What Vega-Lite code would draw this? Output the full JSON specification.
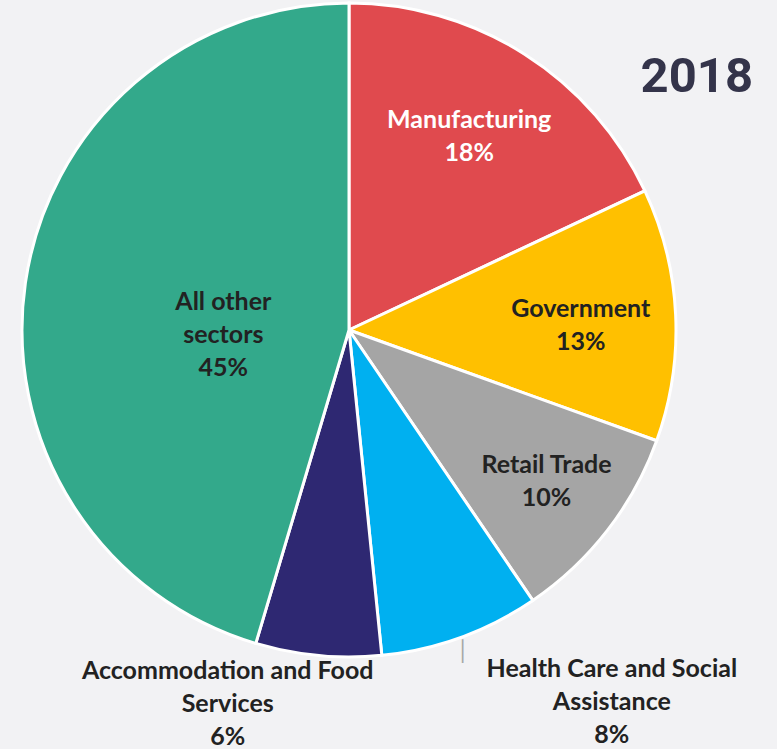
{
  "$schema": "https://vega.github.io/schema/vega-lite/v6.json",
  "width": 654,
  "height": 654,
  "autosize": {"type": "none"},
  "padding": {"left": 22, "top": 3, "right": 101, "bottom": 92},
  "background": "#f2f2f4",
  "config": {"view": {"stroke": null}},
  "title": {"text": "2018", "anchor": "end", "frame": "group", "font": "Roboto", "fontSize": 49, "fontWeight": "bold", "color": "#34344a", "baseline": "alphabetic", "offset": 0, "dx": 77, "dy": 172},
  "data": {"values": [
    {"sector": "Manufacturing", "value": 18.0, "order": 1, "label": "Manufacturing\n18%"},
    {"sector": "Government", "value": 12.5, "order": 2, "label": "Government\n13%"},
    {"sector": "Retail Trade", "value": 10.0, "order": 3, "label": "Retail Trade\n10%"},
    {"sector": "Health Care and Social Assistance", "value": 7.9, "order": 4, "label": "Health Care and Social\nAssistance\n8%"},
    {"sector": "Accommodation and Food Services", "value": 6.2, "order": 5, "label": "Accommodation and Food\nServices\n6%"},
    {"sector": "All other sectors", "value": 45.4, "order": 6, "label": "All other\nsectors\n45%"}
  ]},
  "encoding": {
    "theta": {"field": "value", "type": "quantitative", "stack": true},
    "order": {"field": "order", "type": "quantitative"}
  },
  "layer": [
    {"mark": {"type": "arc", "outerRadius": 327, "stroke": "white", "strokeWidth": 3},
     "encoding": {"color": {"field": "sector", "type": "nominal", "legend": null,
       "scale": {"domain": ["Manufacturing", "Government", "Retail Trade", "Health Care and Social Assistance", "Accommodation and Food Services", "All other sectors"],
                 "range": ["#e04a4e", "#ffc000", "#a5a5a5", "#00b0f0", "#2e2872", "#33a98b"]}}}},
    {"mark": {"type": "text", "radius": 332, "font": "DejaVu Sans", "fontSize": 20, "color": "#a6a6a6", "align": "center", "baseline": "top"},
     "encoding": {"text": {"condition": {"test": "datum.sector === 'Health Care and Social Assistance'", "value": "│"}, "value": ""}}},
    {"mark": {"type": "text", "radius": 228, "dx": -2, "dy": -17, "font": "Lato", "fontWeight": "bold", "fontSize": 25, "lineHeight": 33, "lineBreak": "\n", "color": "#ffffff", "align": "center", "baseline": "middle"},
     "encoding": {"text": {"condition": {"test": "datum.sector === 'Manufacturing'", "field": "label"}, "value": ""}}},
    {"mark": {"type": "text", "radius": 232, "dy": -10, "font": "Lato", "fontWeight": "bold", "fontSize": 25, "lineHeight": 33, "lineBreak": "\n", "color": "#222222", "align": "center", "baseline": "middle"},
     "encoding": {"text": {"condition": {"test": "datum.sector === 'Government'", "field": "label"}, "value": ""}}},
    {"mark": {"type": "text", "radius": 250, "dy": -18, "font": "Lato", "fontWeight": "bold", "fontSize": 25, "lineHeight": 33, "lineBreak": "\n", "color": "#222222", "align": "center", "baseline": "middle"},
     "encoding": {"text": {"condition": {"test": "datum.sector === 'Retail Trade'", "field": "label"}, "value": ""}}},
    {"mark": {"type": "text", "radius": 380, "dx": 133, "dy": -18, "font": "Lato", "fontWeight": "bold", "fontSize": 25, "lineHeight": 33, "lineBreak": "\n", "color": "#222222", "align": "center", "baseline": "middle"},
     "encoding": {"text": {"condition": {"test": "datum.sector === 'Health Care and Social Assistance'", "field": "label"}, "value": ""}}},
    {"mark": {"type": "text", "radius": 375, "dx": -86, "dy": -32, "font": "Lato", "fontWeight": "bold", "fontSize": 25, "lineHeight": 33, "lineBreak": "\n", "color": "#222222", "align": "center", "baseline": "middle"},
     "encoding": {"text": {"condition": {"test": "datum.sector === 'Accommodation and Food Services'", "field": "label"}, "value": ""}}},
    {"mark": {"type": "text", "radius": 127, "dy": -10, "font": "Lato", "fontWeight": "bold", "fontSize": 25, "lineHeight": 33, "lineBreak": "\n", "color": "#222222", "align": "center", "baseline": "middle"},
     "encoding": {"text": {"condition": {"test": "datum.sector === 'All other sectors'", "field": "label"}, "value": ""}}}
  ]
}
